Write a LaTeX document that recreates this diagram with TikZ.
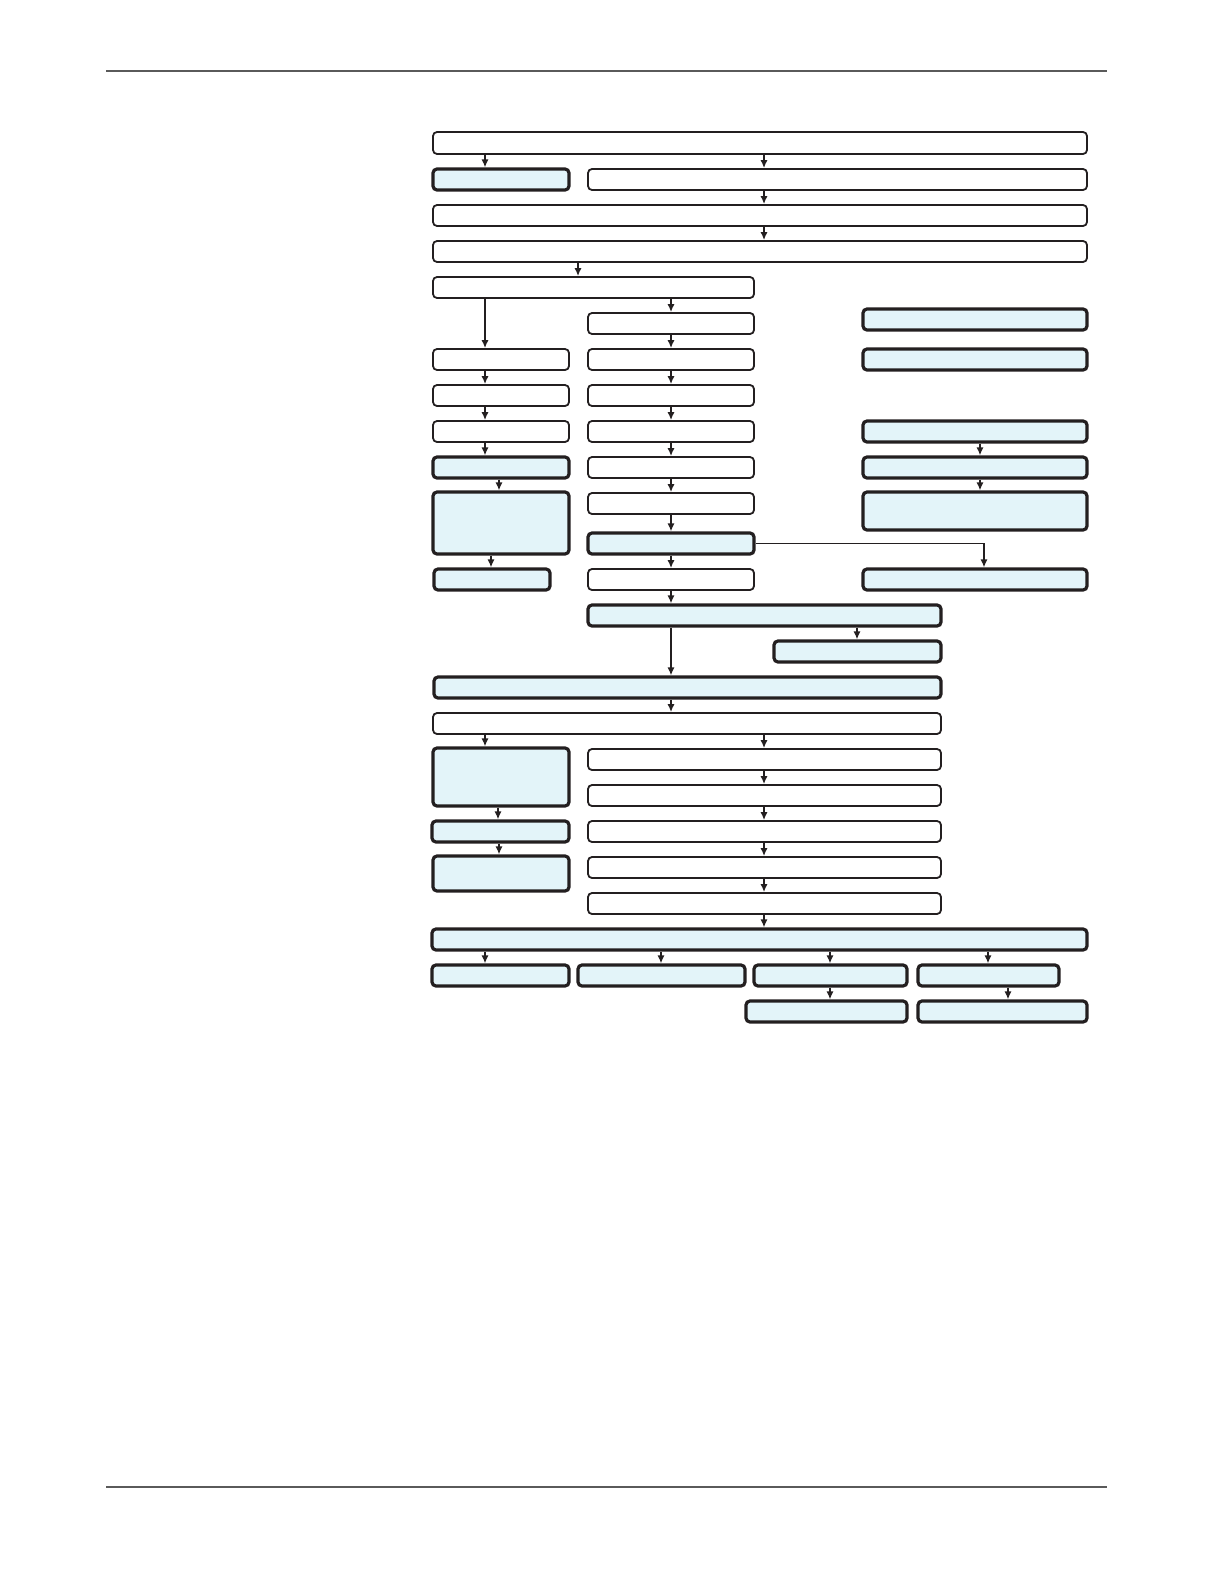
\documentclass[tikz,border=0pt]{standalone}
\usetikzlibrary{arrows.meta,fit}
\definecolor{boxblue}{HTML}{E3F4F9}
\definecolor{boxline}{HTML}{231F20}
\definecolor{rulegray}{HTML}{5A5A5A}
\begin{document}
\begin{tikzpicture}[
            x=0.5pt, y=-0.5pt,
            plainbox/.style={draw=boxline, line width=0.9pt, rounded corners=2pt, inner sep=0pt},
            bluebox/.style={plainbox, fill=boxblue, line width=1.6pt},
            arrow/.style={draw=boxline, line width=0.8pt, -{Latex[length=4pt,width=3.6pt]}}
        ]
            \useasboundingbox (0,0) rectangle (1224,1584);
            % page rules
            \draw[rulegray, line width=0.8pt] (106,71) -- (1107,71);
            \draw[rulegray, line width=0.8pt] (106,1487) -- (1107,1487);

            % boxes
            \node[plainbox, fit={(433,132) (1087,154)}] (r1) {};
            \node[bluebox, fit={(433,169) (569,190)}] (r2l) {};
            \node[plainbox, fit={(588,169) (1087,190)}] (r2r) {};
            \node[plainbox, fit={(433,205) (1087,226)}] (r3) {};
            \node[plainbox, fit={(433,241) (1087,262)}] (r4) {};
            \node[plainbox, fit={(433,277) (754,298)}] (r5) {};
            \node[plainbox, fit={(588,313) (754,334)}] (m6) {};
            \node[bluebox, fit={(863,309) (1087,330)}] (s6) {};
            \node[plainbox, fit={(433,349) (569,370)}] (l7) {};
            \node[plainbox, fit={(588,349) (754,370)}] (m7) {};
            \node[bluebox, fit={(863,349) (1087,370)}] (s7) {};
            \node[plainbox, fit={(433,385) (569,406)}] (l8) {};
            \node[plainbox, fit={(588,385) (754,406)}] (m8) {};
            \node[plainbox, fit={(433,421) (569,442)}] (l9) {};
            \node[plainbox, fit={(588,421) (754,442)}] (m9) {};
            \node[bluebox, fit={(863,421) (1087,442)}] (s9) {};
            \node[bluebox, fit={(433,457) (569,478)}] (l10) {};
            \node[plainbox, fit={(588,457) (754,478)}] (m10) {};
            \node[bluebox, fit={(863,457) (1087,478)}] (s10) {};
            \node[bluebox, fit={(433,492) (569,554)}] (l11) {};
            \node[plainbox, fit={(588,493) (754,514)}] (m11) {};
            \node[bluebox, fit={(863,492) (1087,530)}] (s11) {};
            \node[bluebox, fit={(588,533) (754,554)}] (m12) {};
            \node[bluebox, fit={(434,569) (550,590)}] (l13) {};
            \node[plainbox, fit={(588,569) (754,590)}] (m13) {};
            \node[bluebox, fit={(863,569) (1087,590)}] (s13) {};
            \node[bluebox, fit={(588,605) (941,626)}] (m14) {};
            \node[bluebox, fit={(774,641) (941,662)}] (s15) {};
            \node[bluebox, fit={(434,677) (941,698)}] (r16) {};
            \node[plainbox, fit={(433,713) (941,734)}] (r17) {};
            \node[bluebox, fit={(433,748) (569,806)}] (l18) {};
            \node[plainbox, fit={(588,749) (941,770)}] (m18) {};
            \node[plainbox, fit={(588,785) (941,806)}] (m19) {};
            \node[bluebox, fit={(432,821) (569,842)}] (l20) {};
            \node[plainbox, fit={(588,821) (941,842)}] (m20) {};
            \node[bluebox, fit={(433,856) (569,891)}] (l21) {};
            \node[plainbox, fit={(588,857) (941,878)}] (m21) {};
            \node[plainbox, fit={(588,893) (941,914)}] (m22) {};
            \node[bluebox, fit={(432,929) (1087,950)}] (r23) {};
            \node[bluebox, fit={(432,965) (569,986)}] (b1) {};
            \node[bluebox, fit={(578,965) (745,986)}] (b2) {};
            \node[bluebox, fit={(754,965) (907,986)}] (b3) {};
            \node[bluebox, fit={(918,965) (1059,986)}] (b4) {};
            \node[bluebox, fit={(746,1001) (907,1022)}] (c3) {};
            \node[bluebox, fit={(918,1001) (1087,1022)}] (c4) {};

            % straight arrows
            \foreach \x/\a/\b in {485/r1/r2l, 764/r1/r2r, 764/r2r/r3, 764/r3/r4, 578/r4/r5,
                    485/r5/l7, 671/r5/m6, 671/m6/m7, 485/l7/l8, 671/m7/m8, 485/l8/l9,
                    671/m8/m9, 485/l9/l10, 671/m9/m10, 499/l10/l11, 671/m10/m11,
                    671/m11/m12, 980/s9/s10, 980/s10/s11, 491/l11/l13, 671/m12/m13,
                    671/m13/m14, 857/m14/s15, 671/m14/r16, 671/r16/r17, 485/r17/l18,
                    764/r17/m18, 764/m18/m19, 498/l18/l20, 764/m19/m20, 499/l20/l21,
                    764/m20/m21, 764/m21/m22, 764/m22/r23, 485/r23/b1, 661/r23/b2,
                    830/r23/b3, 988/r23/b4, 830/b3/c3, 1008/b4/c4}
                \draw[arrow] (\x,0 |- \a.south) -- (\x,0 |- \b.north);
            % elbow
            \draw[arrow] (m12.east) -| (984,0 |- s13.north);
        \end{tikzpicture}
\end{document}
